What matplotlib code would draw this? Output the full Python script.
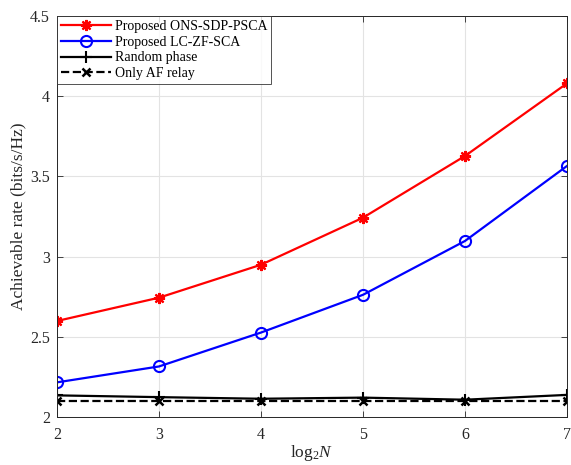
import matplotlib
matplotlib.use('Agg')
import matplotlib.pyplot as plt

plt.rcParams['font.family'] = ['Liberation Serif', 'DejaVu Serif']
plt.rcParams['mathtext.fontset'] = 'custom'
plt.rcParams['mathtext.rm'] = 'Liberation Serif'
plt.rcParams['mathtext.it'] = 'Liberation Serif:italic'

# data
log2N = [2, 3, 4, 5, 6, 7]
ons_sdp_psca = [2.60, 2.745, 2.95, 3.243, 3.627, 4.079]
lc_zf_sca = [2.218, 2.317, 2.528, 2.763, 3.098, 3.565]
random_phase = [2.137, 2.126, 2.116, 2.123, 2.110, 2.140]
only_af = [2.10, 2.10, 2.10, 2.10, 2.10, 2.10]

fig = plt.figure(figsize=(5.71, 4.65), dpi=100)
ax = fig.add_axes([0.0998, 0.1024, 0.8932, 0.8638])

ax.plot(log2N, ons_sdp_psca, color='red', lw=1.6, marker=(8, 2, 0), ms=8,
        mew=1.6, label='Proposed ONS-SDP-PSCA')
ax.plot(log2N, lc_zf_sca, color='blue', lw=1.6, marker='o', ms=8,
        mfc='none', mew=1.5, label='Proposed LC-ZF-SCA')
ax.plot(log2N, random_phase, color='black', lw=1.6, marker='+', ms=9,
        mew=1.5, label='Random phase')
ax.plot(log2N, only_af, color='black', lw=1.6, ls='--', marker='x', ms=6,
        mew=1.8, label='Only AF relay')

ax.set_xlim(2, 7)
ax.set_ylim(2, 4.5)
ax.set_xticks(log2N)
ax.set_yticks([2, 2.5, 3, 3.5, 4, 4.5])
ax.set_yticklabels(['2', '2.5', '3', '3.5', '4', '4.5'])
ax.grid(True, color='#e3e3e3', lw=0.8)
ax.set_axisbelow(True)
ax.tick_params(direction='in', top=True, right=True, length=4, width=0.6,
               labelsize=11.5, colors='#262626', labelcolor='#262626')
ax.tick_params(axis='x', pad=7)
ax.tick_params(axis='y', pad=5)
for s in ax.spines.values():
    s.set_color('#262626')
    s.set_linewidth(0.7)

ax.set_xlabel(r'$\mathrm{log}_2\mathit{N}$', fontsize=12.5, color='#262626',
              labelpad=0)
ax.set_ylabel('Achievable rate (bits/s/Hz)', fontsize=12.5, color='#262626',
              labelpad=3)

leg = ax.legend(loc='upper left', fontsize=10, frameon=True, fancybox=False,
                edgecolor='#262626', borderaxespad=0, handlelength=3.6,
                borderpad=0.3, labelspacing=0.2, handletextpad=0.25)
leg.get_frame().set_linewidth(0.7)
for h in leg.legend_handles:
    h.set_markevery([1])

fig.savefig('out.png', dpi=100)
